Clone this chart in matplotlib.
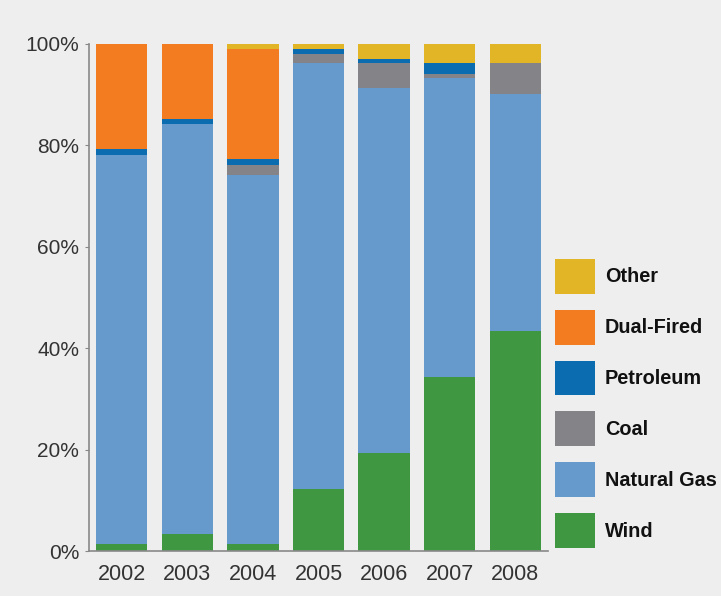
import matplotlib.pyplot as plt
import numpy as np

years = ["2002", "2003", "2004", "2005", "2006", "2007", "2008"]
wind = [1.3, 3.3, 1.4, 12.2, 19.3, 34.4, 43.4]
natural_gas = [76.9, 80.9, 72.8, 84.1, 72.0, 58.8, 46.7]
coal = [0.0, 0.0, 1.9, 1.7, 4.9, 0.8, 6.1]
petroleum = [1.0, 1.0, 1.2, 1.0, 0.8, 2.2, 0.0]
dual_fired = [20.8, 14.8, 21.7, 0.0, 0.0, 0.0, 0.0]
other = [0.0, 0.0, 1.0, 1.0, 3.0, 3.8, 3.8]

series = [
    ("Wind", wind, "#3f9741"),
    ("Natural Gas", natural_gas, "#6699cc"),
    ("Coal", coal, "#848388"),
    ("Petroleum", petroleum, "#0b6db0"),
    ("Dual-Fired", dual_fired, "#f47c20"),
    ("Other", other, "#e2b527"),
]

bg = "#eeeeee"
plt.rcParams["font.family"] = ["Liberation Sans", "DejaVu Sans"]

fig = plt.figure(figsize=(7.21, 5.96), dpi=100, facecolor=bg)
ax = fig.add_axes([0.1235, 0.0755, 0.6365, 0.8507])
ax.set_facecolor(bg)

x = np.arange(len(years))
bottom = np.zeros(len(years))
handles = []
for name, vals, col in series:
    b = ax.bar(x, vals, 0.78, bottom=bottom, color=col, label=name)
    bottom += np.array(vals)
    handles.append(b)

ax.set_xlim(-0.5, 6.5)
ax.set_ylim(0, 100)
ax.set_yticks([0, 20, 40, 60, 80, 100])
ax.set_yticklabels([f"{v}%" for v in [0, 20, 40, 60, 80, 100]])
ax.set_xticks(x)
ax.set_xticklabels(years)
ax.tick_params(axis="y", length=3, color="#888888", labelsize=15,
               labelcolor="#333333", pad=4)
ax.tick_params(axis="x", length=0, labelsize=15.5, labelcolor="#333333", pad=9)
for s in ["top", "right"]:
    ax.spines[s].set_visible(False)
for s in ["left", "bottom"]:
    ax.spines[s].set_color("#888888")
    ax.spines[s].set_linewidth(1.2)

leg = ax.legend(handles[::-1], [s[0] for s in series][::-1],
                loc="lower left", bbox_to_anchor=(555 / 721, 1 - 548 / 596),
                bbox_transform=fig.transFigure, frameon=False, borderpad=0,
                borderaxespad=0, handlelength=2.0, handleheight=2.33,
                labelspacing=0.8, handletextpad=0.5,
                prop={"weight": "bold", "size": 14.3})
for t in leg.get_texts():
    t.set_color("#111111")

fig.savefig("out.png", dpi=100, facecolor=bg)
